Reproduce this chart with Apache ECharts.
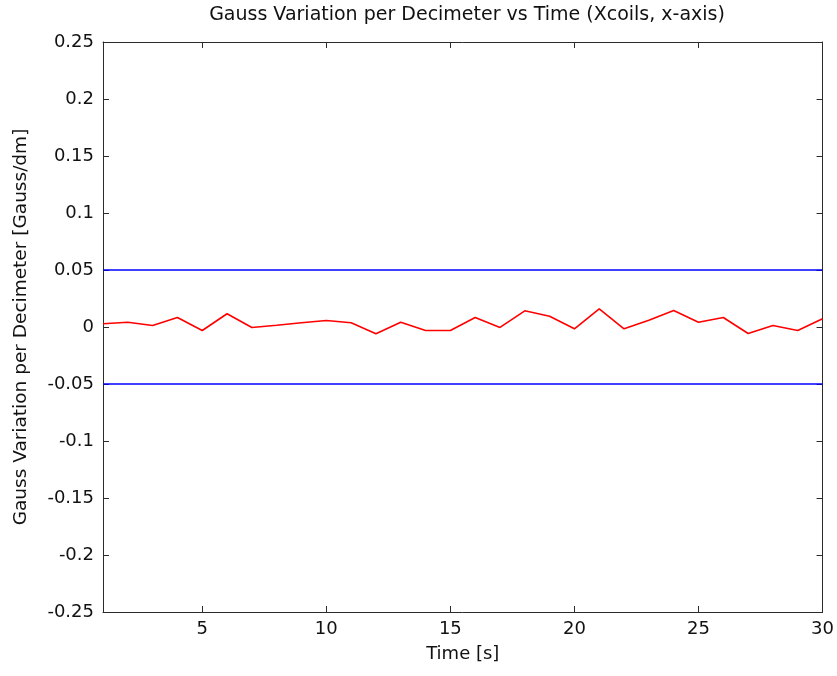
<!DOCTYPE html>
<html>
<head>
<meta charset="utf-8">
<script src="https://cdn.jsdelivr.net/npm/echarts@6/dist/echarts.min.js"></script>
<style>
html,body{margin:0;padding:0;background:#fff;}
#chart{width:837px;height:676px;}
</style>
</head>
<body>
<div id="chart"></div>
<script>
var timeSeconds = [1,2,3,4,5,6,7,8,9,10,11,12,13,14,15,16,17,18,19,20,21,22,23,24,25,26,27,28,29,30];
var gaussVariation = [0.0028,0.0042,0.0013,0.0083,-0.0031,0.0116,-0.0004,0.0016,0.0037,0.0057,0.0037,-0.0060,0.0042,-0.0031,-0.0031,0.0083,-0.0004,0.0142,0.0095,-0.0016,0.0160,-0.0016,0.0060,0.0145,0.0042,0.0083,-0.0057,0.0013,-0.0031,0.0072];
var upperLimit = 0.05;
var lowerLimit = -0.05;
var limitTimes = [1, 30];
var xTicks = [5,10,15,20,25,30];
var yTicks = [-0.25,-0.2,-0.15,-0.1,-0.05,0,0.05,0.1,0.15,0.2,0.25];

var FONT = 'DejaVu Sans';
var AXC = '#2b2b2b';

var chart = echarts.init(document.getElementById('chart'), null, {renderer:'canvas'});

function yfmt(v){ return String(parseFloat(Number(v).toFixed(2))); }

var option = {
  backgroundColor: '#ffffff',
  animation: false,
  title: {
    text: 'Gauss Variation per Decimeter vs Time (Xcoils, x-axis)',
    left: 462,
    top: 1,
    textAlign: 'center',
    textStyle: {fontFamily: FONT, fontSize: 19, fontWeight: 'normal', color: '#111'}
  },
  grid: {left: 103, right: 12, top: 42, bottom: 64, containLabel: false},
  xAxis: [
    {
      type: 'value', min: 1, max: 30, position: 'bottom',
      name: 'Time [s]', nameLocation: 'middle', nameGap: 33,
      nameTextStyle: {fontFamily: FONT, fontSize: 18, color: '#111'},
      axisLine: {show: true, onZero: false, lineStyle: {color: AXC, width: 1}},
      axisTick: {show: true, inside: true, length: 6, customValues: xTicks, lineStyle: {color: AXC}},
      axisLabel: {show: true, margin: 8, customValues: xTicks, fontFamily: FONT, fontSize: 18, color: '#111'},
      splitLine: {show: false}
    },
    {
      type: 'value', min: 1, max: 30, position: 'top',
      axisLine: {show: true, onZero: false, lineStyle: {color: AXC, width: 1}},
      axisTick: {show: true, inside: true, length: 6, customValues: xTicks, lineStyle: {color: AXC}},
      axisLabel: {show: false},
      splitLine: {show: false}
    }
  ],
  yAxis: [
    {
      type: 'value', min: -0.25, max: 0.25, interval: 0.05, position: 'left',
      name: 'Gauss Variation per Decimeter [Gauss/dm]', nameLocation: 'middle', nameGap: 72,
      nameTextStyle: {fontFamily: FONT, fontSize: 18.5, color: '#111'},
      axisLine: {show: true, onZero: false, lineStyle: {color: AXC, width: 1}},
      axisTick: {show: true, inside: true, length: 6, lineStyle: {color: AXC}},
      axisLabel: {show: true, margin: 9, fontFamily: FONT, fontSize: 18, color: '#111', formatter: yfmt},
      splitLine: {show: false}
    },
    {
      type: 'value', min: -0.25, max: 0.25, interval: 0.05, position: 'right',
      axisLine: {show: true, onZero: false, lineStyle: {color: AXC, width: 1}},
      axisTick: {show: true, inside: true, length: 6, lineStyle: {color: AXC}},
      axisLabel: {show: false},
      splitLine: {show: false}
    }
  ],
  series: [
    {
      type: 'line', name: 'upper', xAxisIndex: 0, yAxisIndex: 0,
      data: limitTimes.map(function(t){ return [t, upperLimit]; }),
      showSymbol: false, symbol: 'none',
      lineStyle: {color: '#0000ff', width: 1.5}
    },
    {
      type: 'line', name: 'lower', xAxisIndex: 0, yAxisIndex: 0,
      data: limitTimes.map(function(t){ return [t, lowerLimit]; }),
      showSymbol: false, symbol: 'none',
      lineStyle: {color: '#0000ff', width: 1.5}
    },
    {
      type: 'line', name: 'gauss', xAxisIndex: 0, yAxisIndex: 0,
      data: timeSeconds.map(function(t, i){ return [t, gaussVariation[i]]; }),
      showSymbol: false, symbol: 'none',
      lineStyle: {color: '#ff0000', width: 1.6}
    }
  ]
};
chart.setOption(option);
</script>
</body>
</html>
